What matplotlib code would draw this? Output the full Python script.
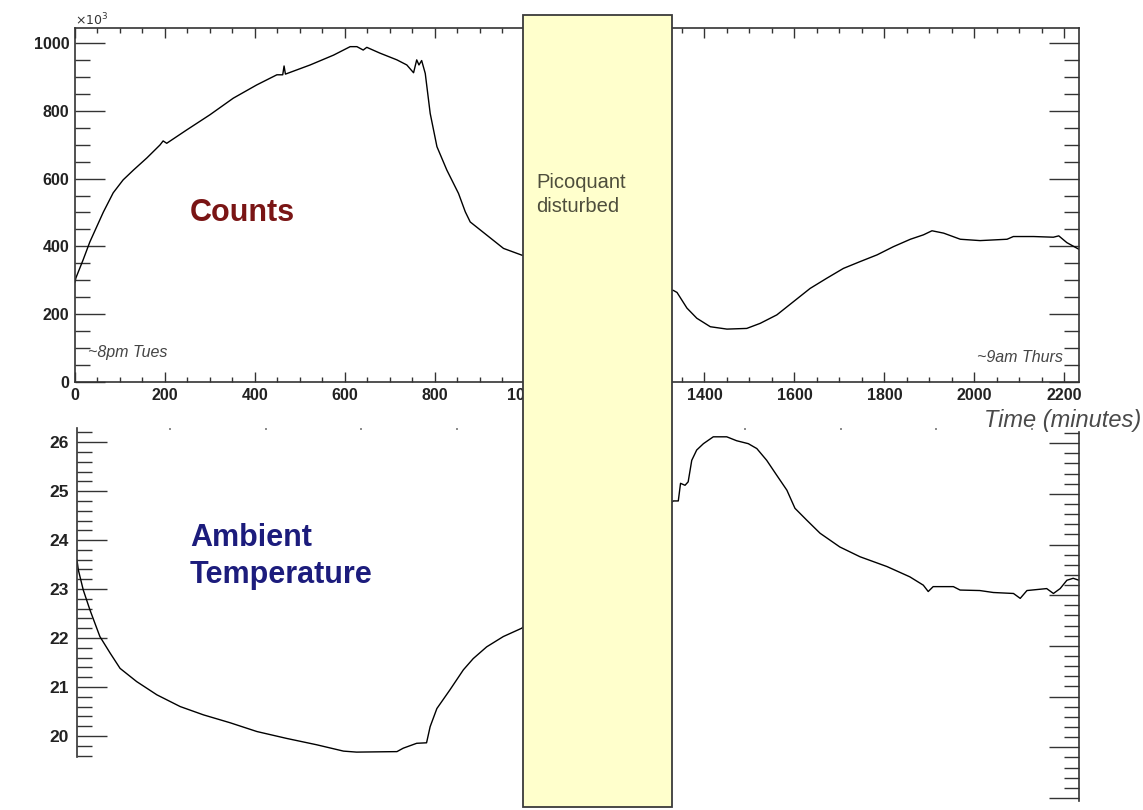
import numpy as np
import matplotlib
matplotlib.use("Agg")
import matplotlib.pyplot as plt
from matplotlib.patches import Rectangle
from matplotlib.ticker import MultipleLocator, FixedLocator, NullFormatter
import matplotlib.transforms as mtransforms

plt.rcParams['font.family'] = ['Liberation Sans', 'DejaVu Sans']

# counts (x1000) vs time in minutes
count_t = [0, 2, 18, 33, 48, 63, 85, 107, 130, 160, 189, 196, 204, 248, 300, 352, 404, 449,
           462, 465, 468, 523, 575, 612, 627, 641, 649, 678, 716, 738, 753, 760, 765, 771,
           779, 790, 805, 827, 853, 868, 879, 916, 953, 994,
           1150, 1331, 1339, 1361, 1383, 1413, 1450, 1494, 1524, 1561, 1598, 1635, 1672, 1709,
           1746, 1784, 1820, 1858, 1887, 1906, 1932, 1969, 2013, 2073, 2087, 2132, 2176, 2188,
           2206, 2232]
count_v = [295, 307, 360, 413, 457, 501, 558, 596, 625, 661, 699, 711, 704, 743, 788, 837, 876, 906,
           906, 932, 908, 935, 964, 989, 989, 979, 987, 970, 950, 935, 912, 950, 935, 948,
           910, 792, 694, 625, 556, 502, 472, 433, 394, 374,
           320, 270, 264, 218, 188, 163, 156, 158, 173, 198, 237, 276, 306, 335,
           355, 375, 399, 421, 434, 446, 439, 421, 417, 421, 429, 429, 427, 431,
           411, 392]

# ambient temperature (deg C) vs time in minutes
temp_t = [0, 3, 14, 29, 51, 74, 96, 133, 178, 230, 282, 341, 401, 467, 534, 594, 623, 713,
          727, 757, 779, 787, 802, 831, 861, 883, 913, 950, 991,
          1150, 1329, 1340, 1345, 1355, 1362, 1370, 1381, 1396, 1418, 1448, 1470, 1496, 1515,
          1537, 1559, 1582, 1600, 1626, 1656, 1700, 1745, 1805, 1856, 1886, 1897, 1908, 1953,
          1968, 2012, 2042, 2087, 2102, 2117, 2161, 2176, 2191, 2206, 2220, 2233]
temp_v = [23.59, 23.39, 22.98, 22.57, 22.03, 21.69, 21.38, 21.11, 20.84, 20.60, 20.43, 20.27,
          20.09, 19.95, 19.82, 19.69, 19.67, 19.68, 19.75, 19.85, 19.86, 20.19, 20.56, 20.94,
          21.35, 21.58, 21.82, 22.03, 22.20,
          23.5, 24.80, 24.80, 25.16, 25.12, 25.19, 25.63, 25.84, 25.97, 26.11, 26.11, 26.03,
          25.97, 25.87, 25.63, 25.33, 25.02, 24.65, 24.41, 24.14, 23.86, 23.66, 23.46, 23.25,
          23.08, 22.95, 23.05, 23.05, 22.98, 22.97, 22.93, 22.91, 22.81, 22.97, 23.01, 22.91,
          23.01, 23.18, 23.22, 23.18]

box_t = [997, 1328]

W, H = 1143, 810
fig = plt.figure(figsize=(W / 100, H / 100), dpi=100)


def frac(px_l, px_t, px_r, px_b):
    return [px_l / W, 1 - px_b / H, (px_r - px_l) / W, (px_b - px_t) / H]


spine_col = '#333333'
lab_col = '#222222'


def bold_labels(labels, size):
    for t in labels:
        t.set_fontsize(size)
        t.set_fontweight('bold')
        t.set_color(lab_col)


# ---- top panel : counts
ax1 = fig.add_axes(frac(75, 28, 1079, 382))
ax1.plot(count_t, count_v, color='black', lw=1.0)
ax1.set_xlim(0, 2233)
ax1.set_ylim(0, 1044)
ax1.xaxis.set_major_locator(MultipleLocator(200))
ax1.xaxis.set_minor_locator(MultipleLocator(50))
ax1.yaxis.set_major_locator(MultipleLocator(200))
ax1.yaxis.set_minor_locator(MultipleLocator(50))
ax1.tick_params(axis='x', which='major', direction='in', length=7, width=1, top=True, color=spine_col, pad=4)
ax1.tick_params(axis='x', which='minor', direction='in', length=3.6, width=1, top=True, color=spine_col)
ax1.tick_params(axis='y', which='major', direction='in', length=21.6, width=1, right=True, color=spine_col, pad=4)
ax1.tick_params(axis='y', which='minor', direction='in', length=10.8, width=1, right=True, color=spine_col)
bold_labels(ax1.get_xticklabels() + ax1.get_yticklabels(), 11.5)
for s in ax1.spines.values():
    s.set_color(spine_col)
    s.set_linewidth(1.2)

fig.text(75 / W, 1 - 20 / H, r'$\times10^3$', fontsize=9, color='#333333', va='center')
fig.text(88 / W, 1 - 353 / H, '~8pm Tues', fontsize=11.5, style='italic', color='#444444', va='center')
fig.text(1063 / W, 1 - 358 / H, '~9am Thurs', fontsize=11.5, style='italic', color='#444444',
         va='center', ha='right')
fig.text(1141 / W, 1 - 420 / H, 'Time (minutes)', fontsize=17, style='italic', color='#4a4a4a',
         va='center', ha='right')
fig.text(190 / W, 1 - 213 / H, 'Counts', fontsize=22, fontweight='bold', color='#7a1515', va='center')

# ---- bottom panel : ambient temperature
ax2 = fig.add_axes(frac(77, 428, 1079, 757))
ax2.plot(temp_t, temp_v, color='black', lw=1.0)
ax2.set_xlim(0, 2233)
ax2.set_ylim(19.57, 26.29)
ax2.yaxis.set_major_locator(MultipleLocator(1))
ax2.yaxis.set_minor_locator(MultipleLocator(0.2))
ax2.tick_params(axis='y', which='major', direction='in', length=21.6, width=1, color=spine_col, pad=6)
ax2.tick_params(axis='y', which='minor', direction='in', length=10.8, width=1, color=spine_col)
ax2.xaxis.set_major_locator(FixedLocator(np.arange(207, 2233, 213.5)))
ax2.xaxis.set_major_formatter(NullFormatter())
ax2.tick_params(axis='x', which='major', direction='in', length=1.5, width=1.2,
                bottom=False, top=True, color='#777777')
bold_labels(ax2.get_yticklabels(), 12.5)
for k in ('top', 'bottom', 'right'):
    ax2.spines[k].set_visible(False)
ax2.spines['left'].set_color(spine_col)
ax2.spines['left'].set_linewidth(1.2)

# right-hand temperature scale (slightly stretched in the original)
ax3 = fig.add_axes(frac(77, 432, 1079, 801))
ax3.patch.set_visible(False)
ax3.set_ylim(18.94, 26.22)
ax3.set_xticks([])
ax3.yaxis.tick_right()
ax3.yaxis.set_major_locator(MultipleLocator(1))
ax3.yaxis.set_minor_locator(MultipleLocator(0.2))
ax3.yaxis.set_major_formatter(NullFormatter())
ax3.tick_params(axis='y', which='major', direction='in', length=21.6, width=1, color=spine_col)
ax3.tick_params(axis='y', which='minor', direction='in', length=10.8, width=1, color=spine_col)
for k in ('top', 'bottom', 'left'):
    ax3.spines[k].set_visible(False)
ax3.spines['right'].set_color(spine_col)
ax3.spines['right'].set_linewidth(1.2)

fig.text(190 / W, 1 - 538 / H, 'Ambient', fontsize=22, fontweight='bold', color='#1c1c7c', va='center')
fig.text(190 / W, 1 - 575 / H, 'Temperature', fontsize=22, fontweight='bold', color='#1c1c7c', va='center')

# ---- "Picoquant disturbed" box across both panels
trans = mtransforms.blended_transform_factory(ax1.transData, fig.transFigure)
box = Rectangle((box_t[0], 1 - 807 / H), box_t[1] - box_t[0], (807 - 15) / H,
                transform=trans, facecolor='#ffffcc', edgecolor='#3a3a3a', lw=1.3,
                zorder=10, clip_on=False)
fig.add_artist(box)
fig.text(536 / W, 1 - 183 / H, 'Picoquant', fontsize=14.5, color='#4e4e3c', va='center', zorder=11)
fig.text(536 / W, 1 - 207 / H, 'disturbed', fontsize=14.5, color='#4e4e3c', va='center', zorder=11)

fig.savefig('out.png', dpi=100)
